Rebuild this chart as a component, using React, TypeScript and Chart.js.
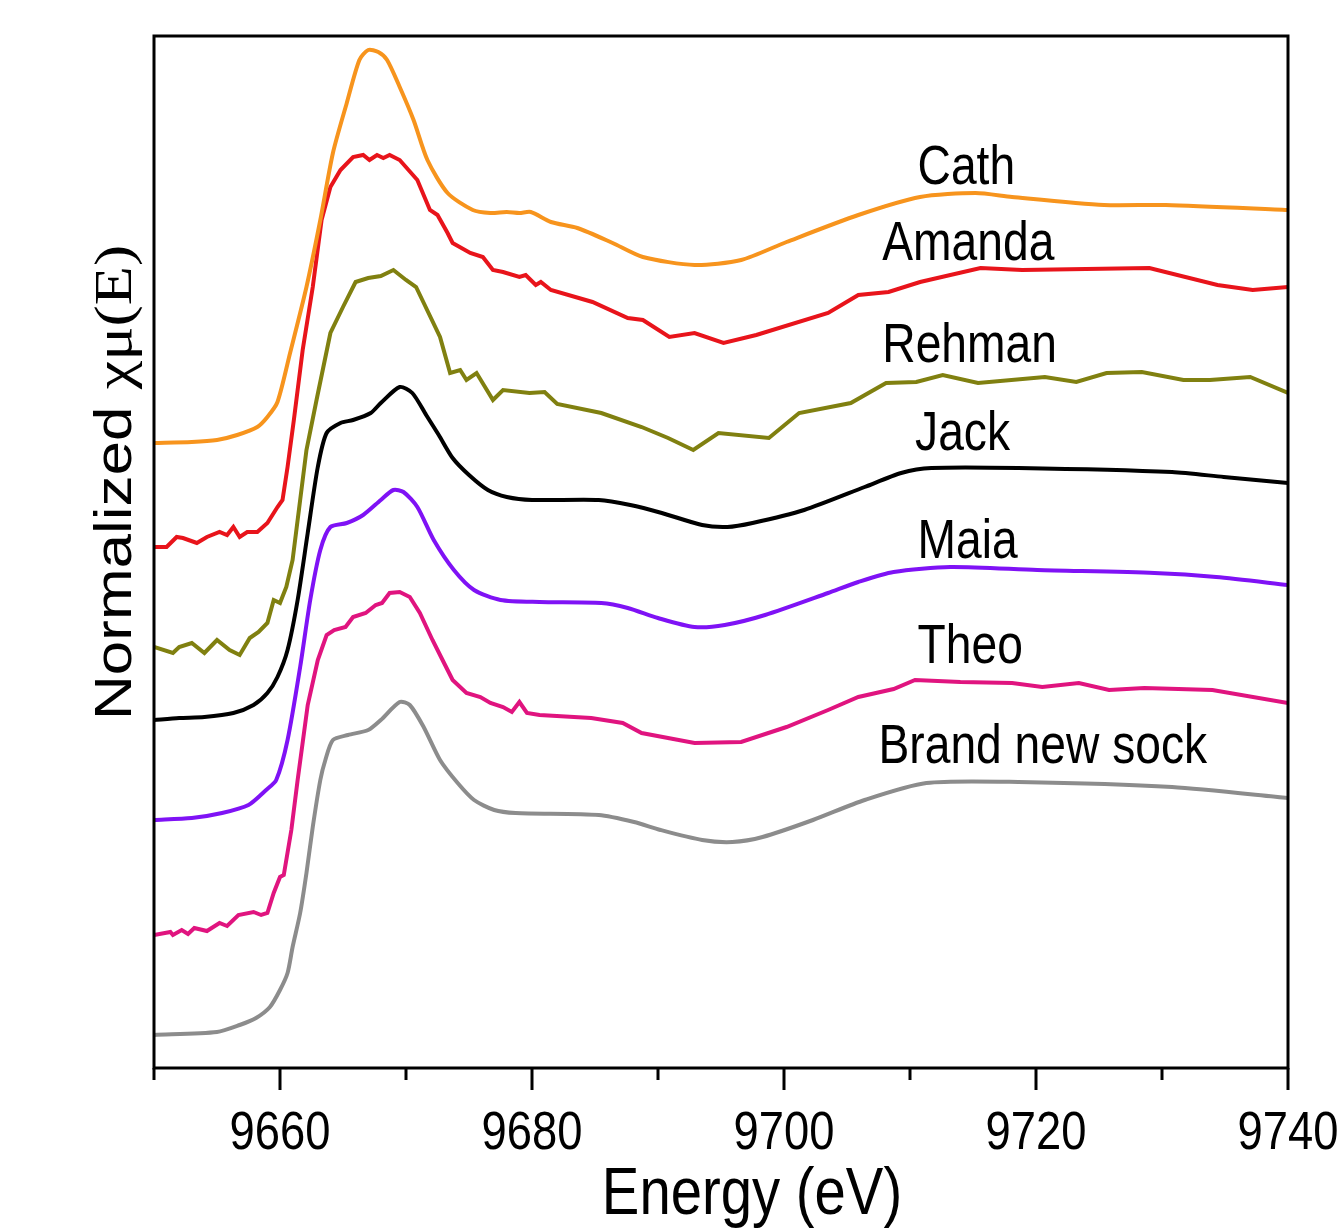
import { useEffect, useRef } from 'react';
import { Chart, registerables } from 'chart.js';

Chart.register(...registerables);

// ---------- data (energy in eV, normalized absorption with vertical offsets) ----------
const cathE = [9650,9653,9655,9656.6,9658.2,9659,9659.8,9660.8,9662.1,9663.2,9664.2,9665.3,9666.3,9667,9667.8,9668.5,9669.5,9670.6,9671.7,9673.3,9675.3,9676.7,9678,9679,9679.9,9681.5,9683.6,9686.4,9688.8,9692.9,9696.6,9700.2,9705.9,9710.8,9715.2,9718.1,9725.4,9730.3,9740];
const cathMu = [6.25,6.26,6.28,6.33,6.41,6.51,6.66,7.15,7.81,8.48,9.15,9.65,10.08,10.18,10.16,10.08,9.81,9.48,9.08,8.75,8.58,8.55,8.56,8.55,8.56,8.46,8.40,8.25,8.11,8.03,8.08,8.26,8.53,8.71,8.75,8.71,8.63,8.63,8.58];

const amandaE = [9650,9651,9651.8,9652.3,9653.4,9654.2,9655.2,9655.8,9656.3,9656.8,9657.4,9658.2,9659,9659.8,9660.2,9660.6,9661.1,9661.8,9662.6,9663.3,9664,9664.8,9665.8,9666.6,9667.1,9667.7,9668.2,9668.7,9669.5,9670.9,9671.9,9672.5,9673.3,9673.7,9675.1,9676.1,9676.9,9677.7,9679,9679.5,9680.3,9680.7,9681.5,9684.8,9687.6,9688.8,9690.9,9692.9,9695.2,9697.8,9703.5,9705.9,9708.3,9710.8,9715.6,9718.9,9729,9734.4,9737.2,9740];
const amandaMu = [5.21,5.21,5.31,5.30,5.25,5.31,5.36,5.33,5.41,5.31,5.36,5.36,5.45,5.61,5.68,6.01,6.48,7.18,7.81,8.48,8.81,8.98,9.11,9.13,9.08,9.13,9.10,9.13,9.08,8.88,8.58,8.53,8.35,8.25,8.15,8.11,7.98,7.96,7.91,7.93,7.83,7.86,7.78,7.66,7.50,7.48,7.31,7.35,7.25,7.33,7.55,7.73,7.76,7.86,8.00,7.98,8.00,7.83,7.78,7.81];

const rehmanE = [9650,9651.5,9652,9653,9654,9655,9656,9656.8,9657.6,9658.3,9659,9659.5,9660,9660.5,9661,9661.6,9662.1,9662.9,9664,9665,9666,9667,9668,9669,9670,9670.8,9672.7,9673.5,9674.3,9674.8,9675.6,9676.9,9677.7,9679.8,9681,9682,9685.5,9688.7,9690.8,9692.8,9694.8,9698.8,9701.2,9705.3,9708.1,9710.5,9712.6,9715.4,9720.7,9723.2,9725.6,9728.4,9731.7,9733.8,9737,9740];
const rehmanMu = [4.21,4.15,4.21,4.25,4.15,4.28,4.18,4.13,4.30,4.36,4.45,4.68,4.65,4.81,5.08,5.68,6.18,6.68,7.35,7.61,7.86,7.90,7.92,7.98,7.88,7.81,7.31,6.95,6.98,6.88,6.95,6.68,6.78,6.75,6.76,6.64,6.55,6.41,6.30,6.18,6.35,6.30,6.55,6.65,6.85,6.86,6.93,6.85,6.91,6.86,6.95,6.96,6.88,6.88,6.91,6.75];

const jackE = [9650,9652,9654,9656.3,9657.9,9659,9659.8,9660.6,9661.4,9662.2,9663,9663.7,9664.8,9665.8,9667.2,9668,9669.5,9670.5,9671.6,9672.6,9673.7,9675,9676.5,9678,9680,9685.3,9687.8,9690.3,9693.5,9695.5,9697.5,9701.6,9706.4,9709.3,9711.7,9718.6,9730.8,9734.9,9740];
const jackMu = [3.48,3.50,3.51,3.55,3.63,3.75,3.91,4.18,4.68,5.35,6.01,6.35,6.45,6.48,6.55,6.65,6.81,6.75,6.53,6.33,6.10,5.93,5.78,5.71,5.68,5.68,5.63,5.55,5.43,5.41,5.45,5.58,5.81,5.95,6.00,6.00,5.96,5.91,5.85];

const maiaE = [9650,9653,9655.4,9657.5,9658.9,9659.7,9660.6,9661.6,9662.4,9663.2,9664,9665.3,9666.6,9668,9669,9669.8,9670.9,9672.2,9673.8,9675.4,9677.5,9680.6,9685.5,9687.6,9690,9692.9,9695.3,9698.5,9703.5,9705.9,9708.7,9713.2,9720.1,9729.4,9734.3,9740];
const maiaMu = [2.48,2.50,2.55,2.63,2.78,2.88,3.28,4.01,4.68,5.18,5.41,5.45,5.53,5.68,5.78,5.76,5.61,5.28,4.98,4.78,4.68,4.66,4.65,4.60,4.50,4.41,4.43,4.53,4.75,4.86,4.96,5.01,4.98,4.95,4.91,4.83];

const theoE = [9650,9651.3,9651.5,9652.2,9652.7,9653.2,9654.2,9655.2,9655.8,9656.7,9657.9,9658.5,9659,9659.5,9660,9660.3,9660.9,9661.4,9662.2,9663,9663.7,9664.3,9665.2,9665.8,9666.8,9667.6,9668.1,9668.7,9669.5,9670.3,9671.1,9672.1,9672.9,9673.7,9674.8,9675.9,9676.7,9677.7,9678.4,9679,9679.6,9680.6,9684.7,9687.2,9688.7,9692.9,9696.6,9700.2,9703.5,9705.9,9708.7,9710.4,9714,9718.1,9720.5,9723.4,9725.8,9728.6,9734,9740];
const theoMu = [1.33,1.36,1.33,1.38,1.34,1.40,1.37,1.45,1.42,1.53,1.56,1.53,1.55,1.75,1.91,1.93,2.38,2.88,3.63,4.08,4.33,4.38,4.41,4.51,4.55,4.63,4.65,4.75,4.76,4.71,4.55,4.28,4.08,3.88,3.75,3.71,3.65,3.61,3.56,3.66,3.55,3.53,3.50,3.45,3.35,3.25,3.26,3.41,3.58,3.71,3.79,3.88,3.86,3.85,3.81,3.85,3.78,3.80,3.78,3.65];

const sockE = [9650,9655,9656.8,9658.1,9659.2,9660,9660.6,9661,9661.6,9662.1,9662.6,9663.2,9663.6,9664.2,9665.4,9667,9668,9669.5,9670.3,9671.4,9672.7,9674.1,9675.4,9677,9678.7,9685.3,9688.1,9690.2,9693.5,9695.9,9698.3,9702.3,9706.4,9711.3,9718.6,9730.8,9740];
const sockMu = [0.33,0.36,0.43,0.50,0.61,0.78,0.95,1.21,1.55,1.95,2.41,2.88,3.08,3.28,3.33,3.38,3.48,3.66,3.63,3.41,3.08,2.85,2.68,2.58,2.55,2.53,2.46,2.38,2.28,2.26,2.31,2.48,2.68,2.85,2.86,2.81,2.70];

const seriesNames = ['Cath', 'Amanda', 'Rehman', 'Jack', 'Maia', 'Theo', 'Brand new sock'];
const seriesColors = ['#F7941D', '#E8141B', '#808010', '#000000', '#7F12F5', '#E0147F', '#8C8C8C'];
const seriesTension = [0.25, 0, 0, 0.25, 0.25, 0, 0.25];
const seriesE = [cathE, amandaE, rehmanE, jackE, maiaE, theoE, sockE];
const seriesMu = [cathMu, amandaMu, rehmanMu, jackMu, maiaMu, theoMu, sockMu];

// label anchor (left edge energy, baseline level)
const labelEnergy = [9710.6, 9707.8, 9707.8, 9710.4, 9710.6, 9710.6, 9707.5];
const labelLevel = [8.84, 8.08, 7.06, 6.18, 5.10, 4.05, 3.05];

const xMin = 9650;
const xMax = 9740;
const yMin = 0;
const yMax = 10.32;
const majorTicks = [9660, 9680, 9700, 9720, 9740];
const minorTicks = [9650, 9670, 9690, 9710, 9730];

const xTitle = 'Energy (eV)';
const yTitleSans = 'Normalized ';
const yTitleSerif = 'χμ(E)';

const SANS = '"Liberation Sans", Arial, Helvetica, sans-serif';
const SERIF = '"Liberation Serif", "Times New Roman", Times, serif';
const SQUEEZE = 0.84;

const decorPlugin = {
  id: 'decor',
  afterDraw(chart: any) {
    const ctx = chart.ctx as CanvasRenderingContext2D;
    const area = chart.chartArea;
    const xs = chart.scales.x;
    const ys = chart.scales.y;
    ctx.save();
    ctx.strokeStyle = '#000';
    ctx.lineWidth = 3;
    ctx.strokeRect(area.left, area.top, area.right - area.left, area.bottom - area.top);
    // ticks
    ctx.lineCap = 'butt';
    const drawTick = (v: number, len: number) => {
      const px = xs.getPixelForValue(v);
      ctx.beginPath();
      ctx.moveTo(px, area.bottom);
      ctx.lineTo(px, area.bottom + len);
      ctx.stroke();
    };
    majorTicks.forEach((v) => drawTick(v, 22));
    minorTicks.forEach((v) => drawTick(v, 12));
    // tick labels
    ctx.fillStyle = '#000';
    ctx.font = `54px ${SANS}`;
    ctx.textAlign = 'center';
    ctx.textBaseline = 'alphabetic';
    majorTicks.forEach((v) => {
      const px = xs.getPixelForValue(v);
      ctx.save();
      ctx.translate(px, area.bottom + 81);
      ctx.scale(SQUEEZE, 1);
      ctx.fillText(String(v), 0, 0);
      ctx.restore();
    });
    // x title
    ctx.save();
    ctx.font = `67px ${SANS}`;
    ctx.translate((area.left + area.right) / 2 + 31, area.bottom + 146);
    ctx.scale(SQUEEZE, 1);
    ctx.fillText(xTitle, 0, 0);
    ctx.restore();
    // y title (rotated)
    ctx.save();
    ctx.translate(131, 720);
    ctx.rotate(-Math.PI / 2);
    ctx.scale(1, SQUEEZE);
    ctx.textAlign = 'left';
    ctx.font = `62px ${SANS}`;
    ctx.fillText(yTitleSans, 0, 0);
    const w = ctx.measureText(yTitleSans).width;
    ctx.font = `64px ${SERIF}`;
    ctx.fillText(yTitleSerif, w, 0);
    ctx.restore();
    // series labels
    ctx.font = `55px ${SANS}`;
    ctx.textAlign = 'left';
    seriesNames.forEach((name, i) => {
      const px = xs.getPixelForValue(labelEnergy[i]);
      const py = ys.getPixelForValue(labelLevel[i]);
      ctx.save();
      ctx.translate(px, py);
      ctx.scale(SQUEEZE, 1);
      ctx.fillText(name, 0, 0);
      ctx.restore();
    });
    ctx.restore();
  },
};

export default function App() {
  const ref = useRef<HTMLCanvasElement>(null);
  useEffect(() => {
    const canvas = ref.current;
    if (!canvas) return;
    const datasets = seriesNames.map((name, i) => ({
      label: name,
      data: seriesE[i].map((e, j) => ({ x: e, y: seriesMu[i][j] })),
      borderColor: seriesColors[i],
      backgroundColor: seriesColors[i],
      borderWidth: 4,
      pointRadius: 0,
      tension: seriesTension[i],
      fill: false,
    }));
    const chart = new Chart(canvas, {
      type: 'line',
      data: { datasets },
      options: {
        responsive: false,
        animation: false,
        devicePixelRatio: 1,
        layout: { padding: { top: 36, right: 53, left: 0, bottom: 0 } },
        plugins: { legend: { display: false }, tooltip: { enabled: false } },
        scales: {
          x: {
            type: 'linear',
            min: xMin,
            max: xMax,
            ticks: { display: false },
            grid: { display: false },
            border: { display: false },
            afterFit: (s: any) => { s.height = 160; },
          },
          y: {
            type: 'linear',
            min: yMin,
            max: yMax,
            ticks: { display: false },
            grid: { display: false },
            border: { display: false },
            afterFit: (s: any) => { s.width = 154; },
          },
        },
      } as any,
      plugins: [decorPlugin],
    });
    return () => chart.destroy();
  }, []);
  return (
    <div style={{ position: 'absolute', left: 0, top: 0, width: 1341, height: 1228, background: '#fff' }}>
      <canvas ref={ref} width={1341} height={1228} style={{ display: 'block', width: 1341, height: 1228 }} />
    </div>
  );
}
